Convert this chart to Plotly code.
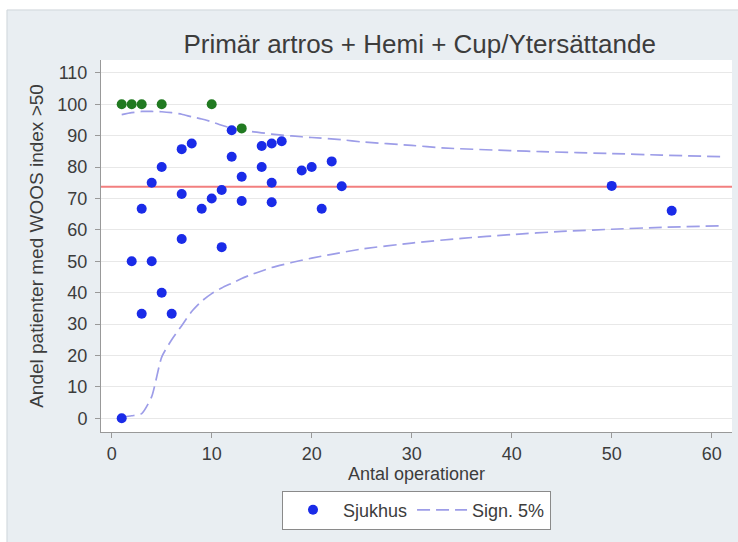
import plotly.graph_objects as go

# Hospitals: number of operations and share of patients with WOOS index > 50 (%)
hospital_n = [1, 2, 3, 3, 4, 4, 5, 5, 6, 7, 7, 7, 8, 9, 10, 11, 11, 12, 12, 13, 13,
              15, 15, 16, 16, 16, 17, 19, 20, 21, 22, 23, 50, 56]
hospital_pct = [0, 50, 66.7, 33.3, 75, 50, 80, 40, 33.3, 85.7, 71.4, 57.1, 87.5, 66.7,
                70, 72.7, 54.5, 91.7, 83.3, 76.9, 69.2, 86.7, 80, 87.5, 75, 68.8, 88.2,
                78.9, 80, 66.7, 81.8, 73.9, 74.0, 66.1]

# Hospitals above the upper limit
high_n = [1, 2, 3, 5, 10, 13]
high_pct = [100, 100, 100, 100, 100, 92.3]

# National average
national_avg = 73.7

# 5% significance limits
upper_n = [1, 2, 3, 4, 5, 6, 7, 8, 9, 10, 11, 12, 13, 14, 15, 16, 18, 20, 23, 25,
           30, 33, 40, 43, 50, 55, 61]
upper_pct = [96.7, 97.3, 97.7, 97.7, 97.6, 97.3, 96.8, 96.0, 95.3, 94.4, 93.3, 92.4,
             91.8, 91.3, 90.9, 90.5, 89.9, 89.4, 88.7, 88.0, 86.9, 86.1, 85.2, 84.9,
             84.3, 83.8, 83.3]
lower_n = [1, 2, 3, 4, 5, 6, 7, 8, 9, 10, 11, 12, 13, 14, 15, 16, 18, 20, 22, 25,
           30, 35, 40, 45, 50, 55, 61]
lower_pct = [0.3, 0.8, 1.5, 6.9, 19.5, 25.0, 29.5, 34.0, 37.3, 39.7, 41.5, 43.0, 44.5,
             45.8, 46.9, 48.0, 49.6, 51.0, 52.2, 53.9, 55.8, 57.3, 58.5, 59.5, 60.2,
             60.8, 61.3]

x_ticks = [0, 10, 20, 30, 40, 50, 60]
y_ticks = [0, 10, 20, 30, 40, 50, 60, 70, 80, 90, 100, 110]

FONT = "Liberation Sans, Arial, sans-serif"
TEXT = "#3c3c3c"
BLUE = "#1a2be8"
GREEN = "#217a21"
LIMIT = "#9d9de8"

fig = go.Figure()

fig.add_trace(go.Scatter(
    x=[-5, 70], y=[national_avg, national_avg], mode="lines",
    line=dict(color="#f27f7f", width=2), showlegend=False, hoverinfo="skip"))

fig.add_trace(go.Scatter(
    x=upper_n, y=upper_pct, mode="lines", name="Sign. 5%",
    line=dict(color=LIMIT, width=1.7, dash="13px,6px", shape="spline", smoothing=0.6),
    legendrank=2))
fig.add_trace(go.Scatter(
    x=lower_n, y=lower_pct, mode="lines", showlegend=False,
    line=dict(color=LIMIT, width=1.7, dash="13px,6px", shape="spline", smoothing=0.6)))

fig.add_trace(go.Scatter(
    x=hospital_n, y=hospital_pct, mode="markers", name="Sjukhus",
    marker=dict(color=BLUE, size=10, line=dict(width=0)), legendrank=1))
fig.add_trace(go.Scatter(
    x=high_n, y=high_pct, mode="markers", showlegend=False,
    marker=dict(color=GREEN, size=10, line=dict(width=0))))

# Outer light panel and white plot region
fig.add_shape(type="rect", xref="paper", yref="paper", layer="below",
              x0=-0.149, x1=1.02, y0=-0.3, y1=1.1345,
              fillcolor="#e9eef2", line=dict(color="#cfd5da", width=1))
fig.add_shape(type="rect", xref="paper", yref="paper", layer="below",
              x0=0, x1=1, y0=0, y1=1, fillcolor="white", line=dict(width=0))

fig.update_layout(
    width=738, height=542,
    margin=dict(l=101, r=6, t=60, b=110),
    paper_bgcolor="white", plot_bgcolor="white",
    font=dict(family=FONT, size=18, color=TEXT),
    title=dict(text="Primär artros + Hemi + Cup/Ytersättande",
               x=0.505, xref="paper", xanchor="center",
               y=1 - 44 / 542, yanchor="middle",
               font=dict(size=26, color=TEXT)),
    showlegend=True,
    legend=dict(orientation="h", x=0.5, xanchor="center", y=-0.21, yanchor="middle",
                bgcolor="white", bordercolor="#8a8a8a", borderwidth=1,
                itemwidth=50, font=dict(size=18, color=TEXT),
                traceorder="normal"),
)

fig.update_xaxes(
    range=[-1.07, 62.03], tickvals=x_ticks, ticktext=[str(v) for v in x_ticks],
    showgrid=False, zeroline=False, showline=True, linecolor="#999999", linewidth=1,
    ticks="outside", ticklen=5, tickcolor="#999999",
    title=dict(text="Antal operationer", standoff=0, font=dict(size=18, color=TEXT)),
    automargin=False,
)
fig.update_yaxes(
    range=[-4.36, 114.08], tickvals=y_ticks, ticktext=[str(v) for v in y_ticks],
    showgrid=True, gridcolor="#e8e8e8", gridwidth=1, zeroline=False,
    showline=True, linecolor="#999999", linewidth=1,
    ticks="outside", ticklen=5, tickcolor="#999999", ticklabelstandoff=4,
    title=dict(text="Andel patienter med WOOS index >50", standoff=8,
               font=dict(size=19, color=TEXT)),
    automargin=False,
)

fig.write_html("out.html")
